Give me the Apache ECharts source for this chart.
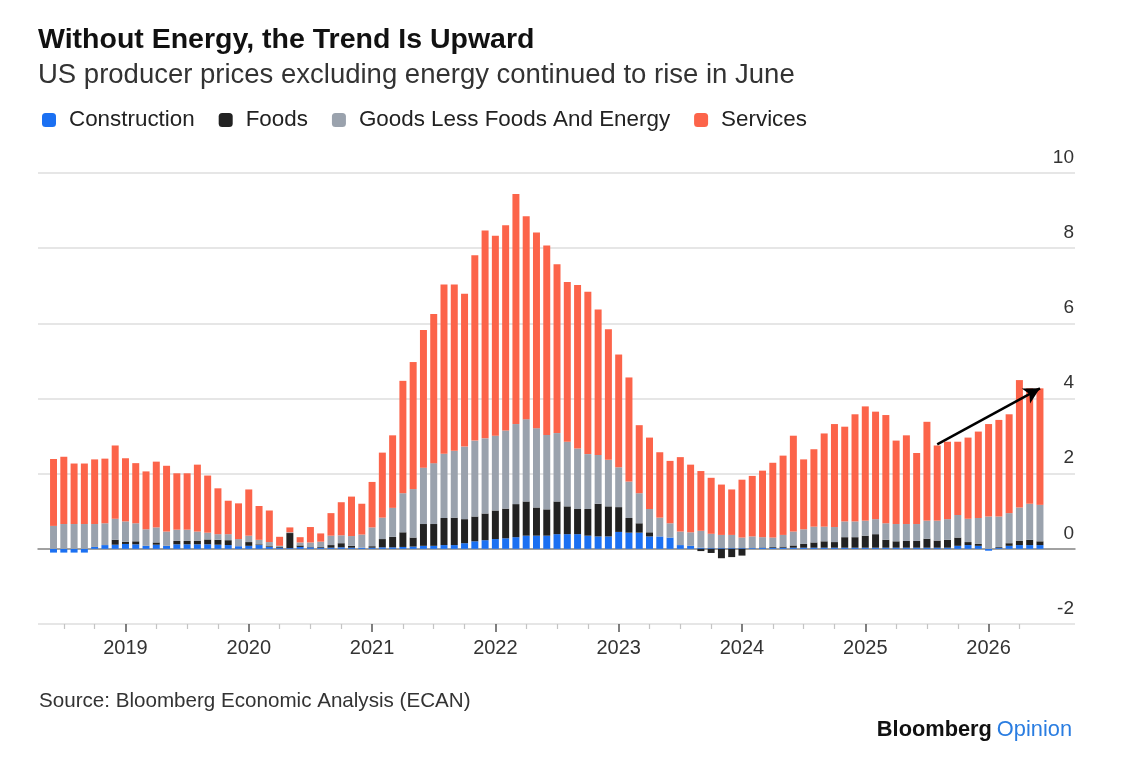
<!DOCTYPE html>
<html>
<head>
<meta charset="utf-8">
<title>Without Energy, the Trend Is Upward</title>
<script src="https://cdn.jsdelivr.net/npm/echarts@6/dist/echarts.min.js"></script>
<style>
  html, body { margin: 0; padding: 0; background: #fff; }
  #chart { width: 1138px; height: 776px; }
</style>
</head>
<body>
<div id="chart"></div>
<script>
// monthly, Jun 2018 .. Jun 2026
var months = [];
for (var k = 0; k < 97; k++) {
  var y = 2018 + Math.floor((5 + k) / 12);
  var m = (5 + k) % 12 + 1;
  months.push(y + '-' + (m < 10 ? '0' + m : m));
}

var construction = [
  -0.10, -0.10, -0.10, -0.10, 0.05, 0.10, 0.11, 0.13, 0.12, 0.08, 0.11, 0.08,
  0.12, 0.12, 0.12, 0.12, 0.11, 0.10, 0.07, 0.08, 0.10, 0.05, 0.03, 0.02,
  0.05, 0.04, 0.03, 0.03, 0.04, 0.03, 0.03, 0.03, 0.04, 0.04, 0.05, 0.06,
  0.08, 0.08, 0.10, 0.10, 0.15, 0.20, 0.23, 0.26, 0.28, 0.31,
  0.35, 0.35, 0.35, 0.39, 0.39, 0.39, 0.35, 0.33, 0.33, 0.45,
  0.43, 0.43, 0.33, 0.33, 0.30, 0.10, 0.08,
  0.03, 0.02, 0.02, 0.02, 0.02, 0.02, 0.03, 0.03, 0.03, 0.03,
  0.03, 0.03, 0.03, 0.03, 0.03, 0.03, 0.03, 0.03, 0.03, 0.03,
  0.03, 0.03, 0.03, 0.03, 0.03,
  0.08, 0.10, 0.08, -0.05, 0.03, 0.08, 0.10, 0.10, 0.10
];
var foods = [
  0, 0, 0, 0, 0, 0, 0.13, 0.06, 0.08, 0, 0.06, 0,
  0.09, 0.09, 0.09, 0.13, 0.13, 0.13, 0, 0.10, 0.02, 0.02, 0.02, 0.40,
  0.04, 0.02, 0.02, 0.07, 0.11, 0.05, 0, 0.04, 0.22, 0.28, 0.39, 0.24,
  0.58, 0.58, 0.72, 0.73, 0.64, 0.66, 0.71, 0.76, 0.79, 0.88,
  0.91, 0.75, 0.70, 0.87, 0.74, 0.67, 0.71, 0.87, 0.80, 0.66,
  0.39, 0.25, 0.11, 0, 0, 0, 0,
  -0.06, -0.11, -0.25, -0.22, -0.18, 0, 0.01, 0.02, 0.03, 0.06,
  0.10, 0.14, 0.17, 0.15, 0.28, 0.28, 0.32, 0.36, 0.21, 0.17,
  0.18, 0.18, 0.24, 0.19, 0.21,
  0.22, 0.08, 0.05, 0, 0.02, 0.07, 0.11, 0.14, 0.10
];
var goods = [
  0.61, 0.66, 0.66, 0.66, 0.61, 0.58, 0.56, 0.54, 0.48, 0.44, 0.40, 0.38,
  0.30, 0.30, 0.25, 0.18, 0.15, 0.16, 0.19, 0.17, 0.12, 0.11, 0.03, 0.02,
  0.08, 0.11, 0.14, 0.25, 0.21, 0.26, 0.35, 0.50, 0.57, 0.77, 1.04, 1.29,
  1.50, 1.62, 1.71, 1.78, 1.93, 2.02, 2.00, 1.99, 2.08, 2.13,
  2.19, 2.11, 1.98, 1.82, 1.72, 1.61, 1.46, 1.30, 1.24, 1.06,
  0.97, 0.80, 0.62, 0.50, 0.38, 0.36, 0.36,
  0.45, 0.38, 0.35, 0.35, 0.28, 0.31, 0.27, 0.25, 0.31, 0.37,
  0.39, 0.42, 0.39, 0.40, 0.42, 0.42, 0.40, 0.40, 0.44, 0.46,
  0.45, 0.45, 0.48, 0.53, 0.55,
  0.60, 0.62, 0.69, 0.86, 0.81, 0.80, 0.89, 0.96, 0.97
];
var services = [
  1.78, 1.79, 1.61, 1.61, 1.72, 1.72, 1.95, 1.68, 1.60, 1.54, 1.75, 1.75,
  1.50, 1.50, 1.78, 1.52, 1.22, 0.89, 0.95, 1.23, 0.90, 0.84, 0.24, 0.13,
  0.14, 0.41, 0.22, 0.60, 0.88, 1.05, 0.82, 1.21, 1.73, 1.93, 2.99, 3.38,
  3.66, 3.97, 4.50, 4.42, 4.07, 4.93, 5.53, 5.32, 5.46, 6.12,
  5.40, 5.21, 5.04, 4.49, 4.25, 4.35, 4.32, 3.87, 3.47, 3.00,
  2.77, 1.81, 1.90, 1.74, 1.66, 1.98, 1.80,
  1.59, 1.49, 1.34, 1.21, 1.54, 1.61, 1.77, 1.99, 2.11, 2.55,
  1.86, 2.06, 2.48, 2.74, 2.52, 2.85, 3.04, 2.86, 2.88, 2.22,
  2.36, 1.89, 2.63, 2.00, 2.06,
  1.95, 2.16, 2.30, 2.46, 2.57, 2.63, 3.39, 3.07, 3.10
];

// trend arrow, from Aug 2025 to Jun 2026
var arrowFrom = ['2025-08', 2.78];
var arrowTo = ['2026-06', 4.27];

var font = 'Liberation Sans, Arial, Helvetica, sans-serif';
var chart = echarts.init(document.getElementById('chart'));

function isYear(i) { return months[i].slice(5) === '01'; }
function isQuarter(i) {
  var mm = months[i].slice(5);
  return mm === '04' || mm === '07' || mm === '10';
}

var option = {
  animation: false,
  backgroundColor: '#ffffff',
  textStyle: { fontFamily: font },
  color: ['#1b70f2', '#222222', '#9aa2ad', '#fc644a'],
  title: [
    {
      text: 'Without Energy, the Trend Is Upward',
      left: 33, top: 21,
      textStyle: { fontSize: 28.5, fontWeight: 'bold', color: '#111' }
    },
    {
      text: 'US producer prices excluding energy continued to rise in June',
      left: 33, top: 56,
      textStyle: { fontSize: 27.5, fontWeight: 'normal', color: '#333' }
    },
    {
      text: 'Source: Bloomberg Economic Analysis (ECAN)',
      left: 34, top: 686,
      textStyle: { fontSize: 20.6, fontWeight: 'normal', color: '#333' }
    },
    {
      text: '{a|Bloomberg} {b|Opinion}',
      right: 61, top: 714,
      textStyle: {
        rich: {
          a: { fontSize: 21.8, fontWeight: 'bold', color: '#111', fontFamily: font },
          b: { fontSize: 21.8, fontWeight: 'normal', color: '#2a7de1', fontFamily: font }
        }
      }
    }
  ],
  legend: {
    left: 37, top: 104,
    icon: 'roundRect',
    itemWidth: 14, itemHeight: 14,
    itemGap: 24,
    textStyle: { fontSize: 22.4, color: '#222', padding: [0, 0, 0, 8] },
    data: ['Construction', 'Foods', 'Goods Less Foods And Energy', 'Services']
  },
  grid: [
    { left: 38, right: 63, top: 173, bottom: 152 },
    { left: 48.4, right: 92.9, top: 173, bottom: 152 }
  ],
  xAxis: [
    {
      // background grid: only the zero line
      type: 'value', gridIndex: 0, min: 0, max: 1,
      axisLine: { show: true, onZero: true, lineStyle: { color: '#8a8a8a', width: 1.5 } },
      axisTick: { show: false }, axisLabel: { show: false }, splitLine: { show: false }
    },
    {
      type: 'category', gridIndex: 1, data: months, position: 'bottom',
      axisLine: { show: false, onZero: false },
      axisTick: {
        show: true, alignWithLabel: true, interval: isYear, length: 8,
        lineStyle: { color: '#555', width: 1.5 }
      },
      axisLabel: {
        interval: isYear, margin: 14, fontSize: 20, color: '#333',
        formatter: function (v) { return v.slice(0, 4); }
      },
      splitLine: { show: false }
    },
    {
      type: 'category', gridIndex: 1, data: months, position: 'bottom',
      axisLine: { show: false, onZero: false },
      axisTick: {
        show: true, alignWithLabel: true, interval: isQuarter, length: 5,
        lineStyle: { color: '#c4c4c4', width: 1.2 }
      },
      axisLabel: { show: false },
      splitLine: { show: false }
    }
  ],
  yAxis: [
    {
      type: 'value', gridIndex: 0, min: -2, max: 10, interval: 2,
      position: 'right',
      axisLine: { show: false }, axisTick: { show: false },
      axisLabel: {
        inside: true, margin: 1, fontSize: 19, color: '#333',
        verticalAlign: 'bottom', padding: [0, 0, 6, 0]
      },
      splitLine: { lineStyle: { color: '#dedede', width: 1.5 } }
    },
    {
      type: 'value', gridIndex: 1, min: -2, max: 10, interval: 2,
      axisLine: { show: false }, axisTick: { show: false },
      axisLabel: { show: false }, splitLine: { show: false }
    }
  ],
  series: [
    {
      name: 'Construction', type: 'bar', stack: 'ppi', xAxisIndex: 1, yAxisIndex: 1,
      barCategoryGap: '32%', data: construction
    },
    {
      name: 'Foods', type: 'bar', stack: 'ppi', xAxisIndex: 1, yAxisIndex: 1,
      data: foods
    },
    {
      name: 'Goods Less Foods And Energy', type: 'bar', stack: 'ppi', xAxisIndex: 1, yAxisIndex: 1,
      data: goods
    },
    {
      name: 'Services', type: 'bar', stack: 'ppi', xAxisIndex: 1, yAxisIndex: 1,
      data: services,
      markLine: {
        silent: true,
        symbol: ['none', 'arrow'],
        symbolSize: [13, 16],
        label: { show: false },
        lineStyle: { color: '#000', width: 2.5, type: 'solid' },
        data: [[{ coord: arrowFrom }, { coord: arrowTo }]]
      }
    }
  ]
};

chart.setOption(option);
</script>
</body>
</html>
